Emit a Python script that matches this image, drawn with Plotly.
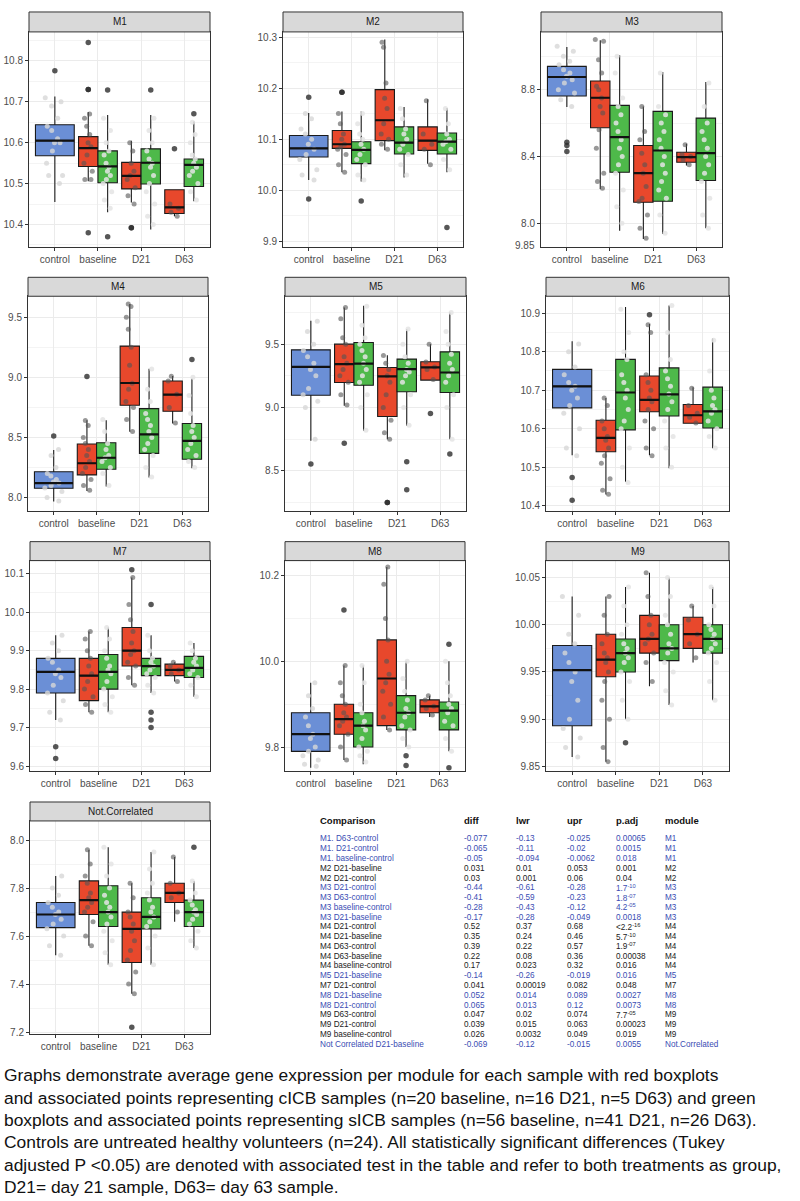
import plotly.graph_objects as go

W, H = 800, 1201

# ---------------- data ----------------
categories = ["control", "baseline", "D21", "D63"]
modules = ["M1", "M2", "M3", "M4", "M5", "M6", "M7", "M8", "M9", "Not.Correlated"]
# box order inside every panel
box_category = [0, 1, 1, 2, 2, 3, 3]
box_group = ["control", "cICB", "sICB", "cICB", "sICB", "cICB", "sICB"]

Q1 = [
    [10.568, 10.542, 10.502, 10.487, 10.499, 10.427, 10.493],
    [10.065, 10.082, 10.052, 10.097, 10.071, 10.078, 10.071],
    [8.762, 8.572, 8.306, 8.126, 8.132, 8.366, 8.256],
    [8.077, 8.188, 8.235, 8.768, 8.367, 8.718, 8.318],
    [9.097, 9.197, 9.176, 8.929, 9.124, 9.216, 9.118],
    [10.654, 10.540, 10.597, 10.644, 10.633, 10.614, 10.602],
    [9.79, 9.77, 9.80, 9.86, 9.835, 9.835, 9.83],
    [9.79, 9.83, 9.80, 9.85, 9.84, 9.88, 9.84],
    [9.893, 9.945, 9.95, 9.97, 9.962, 9.975, 9.97],
    [7.635, 7.69, 7.64, 7.49, 7.63, 7.74, 7.64],
]
MEDIAN = [
    [10.605, 10.587, 10.542, 10.519, 10.551, 10.442, 10.546],
    [10.082, 10.090, 10.079, 10.137, 10.093, 10.097, 10.095],
    [8.876, 8.752, 8.516, 8.30, 8.436, 8.396, 8.42],
    [8.12, 8.285, 8.331, 8.953, 8.525, 8.856, 8.472],
    [9.321, 9.342, 9.347, 9.245, 9.303, 9.316, 9.276],
    [10.71, 10.576, 10.694, 10.675, 10.689, 10.635, 10.645],
    [9.845, 9.835, 9.845, 9.90, 9.86, 9.85, 9.855],
    [9.83, 9.865, 9.85, 9.96, 9.88, 9.895, 9.885],
    [9.952, 9.963, 9.97, 9.985, 9.975, 9.99, 9.985],
    [7.69, 7.75, 7.70, 7.63, 7.68, 7.78, 7.70],
]
Q3 = [
    [10.644, 10.615, 10.580, 10.552, 10.585, 10.485, 10.560],
    [10.107, 10.117, 10.095, 10.197, 10.124, 10.124, 10.112],
    [8.94, 8.852, 8.706, 8.466, 8.67, 8.426, 8.63],
    [8.215, 8.445, 8.456, 9.26, 8.74, 8.97, 8.616],
    [9.455, 9.50, 9.513, 9.316, 9.382, 9.361, 9.439],
    [10.754, 10.622, 10.78, 10.737, 10.758, 10.663, 10.708],
    [9.88, 9.88, 9.89, 9.96, 9.88, 9.865, 9.885],
    [9.88, 9.90, 9.88, 10.05, 9.92, 9.91, 9.905],
    [9.978, 9.99, 9.985, 10.01, 10.0, 10.008, 10.0],
    [7.74, 7.83, 7.81, 7.70, 7.76, 7.82, 7.75],
]
LOWER = [
    [10.455, 10.506, 10.430, 10.454, 10.388, 10.420, 10.457],
    [10.020, 10.035, 10.017, 10.078, 10.025, 10.052, 10.035],
    [8.696, 8.206, 7.956, 7.906, 7.936, 8.346, 7.97],
    [7.967, 8.055, 8.091, 8.547, 8.166, 8.616, 8.243],
    [8.737, 9.013, 8.816, 8.75, 8.855, 9.216, 8.75],
    [10.531, 10.429, 10.462, 10.531, 10.497, 10.614, 10.549],
    [9.72, 9.74, 9.74, 9.81, 9.79, 9.82, 9.78],
    [9.752, 9.77, 9.76, 9.84, 9.80, 9.87, 9.79],
    [9.86, 9.855, 9.90, 9.935, 9.915, 9.96, 9.92],
    [7.52, 7.56, 7.48, 7.36, 7.48, 7.66, 7.55],
]
UPPER = [
    [10.713, 10.675, 10.668, 10.605, 10.668, 10.485, 10.652],
    [10.151, 10.154, 10.154, 10.295, 10.163, 10.178, 10.161],
    [9.056, 9.096, 9.006, 8.70, 8.906, 8.476, 8.846],
    [8.395, 8.644, 8.644, 9.61, 9.072, 9.011, 8.99],
    [9.684, 9.789, 9.803, 9.413, 9.618, 9.50, 9.75],
    [10.827, 10.68, 10.916, 10.872, 10.92, 10.708, 10.834],
    [9.94, 9.95, 9.96, 10.09, 9.94, 9.87, 9.92],
    [9.95, 9.99, 9.99, 10.22, 10.0, 9.92, 10.0],
    [10.03, 10.03, 10.04, 10.055, 10.05, 10.02, 10.04],
    [7.85, 7.96, 7.97, 7.82, 7.95, 7.93, 7.83],
]
OUTLIERS = [
    [[10.776], [10.845, 10.73, 10.73, 10.38], [10.729, 10.37], [10.392, 10.392], [10.729], [10.585], [10.671]],
    [[10.182, 9.983], [10.192, 10.192], [9.979], [], [], [], [9.927]],
    [[8.486, 8.466, 8.43], [], [], [], [], [], []],
    [[8.511], [9.008], [], [], [], [], [9.149]],
    [[8.553], [8.718], [], [8.25, 8.25], [8.571, 8.35], [8.953], [8.632]],
    [[10.473, 10.414], [], [], [10.896], [], [], []],
    [[9.65, 9.62], [], [], [10.11], [10.02, 9.74, 9.72, 9.70], [], []],
    [[], [10.12], [], [], [9.78, 9.757], [], [10.04, 9.752]],
    [[], [], [9.875], [], [], [], []],
    [[], [], [], [7.22], [], [], [7.97]],
]
POINTS = [
    [[10.71, 10.70, 10.69, 10.66, 10.64, 10.63, 10.61, 10.60, 10.60, 10.58, 10.55, 10.52, 10.52, 10.50],
     [10.67, 10.66, 10.64, 10.62, 10.60, 10.59, 10.57, 10.55, 10.53, 10.51, 10.51],
     [10.66, 10.63, 10.60, 10.58, 10.57, 10.55, 10.54, 10.53, 10.52, 10.51, 10.50, 10.48, 10.46, 10.44],
     [10.60, 10.58, 10.55, 10.53, 10.52, 10.51, 10.49, 10.47, 10.45],
     [10.66, 10.63, 10.60, 10.58, 10.56, 10.55, 10.54, 10.52, 10.50, 10.48, 10.45, 10.42, 10.40],
     [10.45, 10.44, 10.43, 10.42],
     [10.65, 10.62, 10.60, 10.57, 10.56, 10.55, 10.54, 10.53, 10.52, 10.50, 10.48, 10.46]],
    [[10.15, 10.14, 10.12, 10.11, 10.10, 10.09, 10.08, 10.07, 10.06, 10.04, 10.03, 10.02],
     [10.15, 10.13, 10.11, 10.10, 10.09, 10.085, 10.08, 10.07, 10.05, 10.035],
     [10.15, 10.13, 10.11, 10.10, 10.09, 10.08, 10.07, 10.06, 10.05, 10.03, 10.02],
     [10.29, 10.28, 10.21, 10.18, 10.16, 10.13, 10.11, 10.10, 10.09, 10.08],
     [10.16, 10.14, 10.12, 10.11, 10.10, 10.09, 10.08, 10.07, 10.05, 10.03],
     [10.175, 10.11, 10.09, 10.08, 10.05],
     [10.16, 10.13, 10.11, 10.10, 10.095, 10.09, 10.08, 10.06, 10.04]],
    [[9.06, 9.03, 9.00, 8.97, 8.95, 8.92, 8.90, 8.88, 8.86, 8.84, 8.80, 8.78, 8.74, 8.70],
     [9.10, 9.09, 8.98, 8.90, 8.82, 8.80, 8.75, 8.70, 8.66, 8.56, 8.45, 8.30, 8.25, 8.21],
     [9.00, 8.90, 8.75, 8.70, 8.65, 8.60, 8.55, 8.50, 8.45, 8.40, 8.35, 8.30, 8.20, 8.10, 8.00],
     [8.70, 8.55, 8.50, 8.42, 8.35, 8.30, 8.22, 8.15, 8.13, 8.05, 7.97, 7.91],
     [8.90, 8.70, 8.65, 8.60, 8.55, 8.50, 8.45, 8.40, 8.35, 8.30, 8.25, 8.20, 8.15, 8.05, 7.94],
     [8.47, 8.41, 8.40, 8.38, 8.35],
     [8.84, 8.70, 8.60, 8.55, 8.50, 8.45, 8.40, 8.35, 8.30, 8.25, 8.15, 8.05, 7.97]],
    [[8.40, 8.35, 8.25, 8.20, 8.18, 8.15, 8.13, 8.12, 8.10, 8.08, 8.05, 8.00, 7.97],
     [8.64, 8.60, 8.50, 8.45, 8.40, 8.35, 8.30, 8.25, 8.20, 8.15, 8.10, 8.06],
     [8.65, 8.55, 8.45, 8.40, 8.35, 8.33, 8.30, 8.25, 8.20, 8.10],
     [9.61, 9.59, 9.50, 9.40, 9.25, 9.10, 8.95, 8.90, 8.80, 8.75, 8.65, 8.55],
     [9.07, 8.90, 8.80, 8.70, 8.65, 8.60, 8.55, 8.50, 8.45, 8.40, 8.35, 8.25, 8.17],
     [9.01, 8.97, 8.86, 8.75, 8.62],
     [9.00, 8.85, 8.70, 8.60, 8.55, 8.50, 8.45, 8.40, 8.35, 8.30, 8.25]],
    [[9.68, 9.60, 9.50, 9.45, 9.40, 9.35, 9.30, 9.25, 9.15, 9.10, 9.05, 9.00, 8.75],
     [9.79, 9.70, 9.55, 9.50, 9.40, 9.35, 9.30, 9.25, 9.20, 9.10, 9.02],
     [9.80, 9.65, 9.55, 9.50, 9.45, 9.40, 9.35, 9.30, 9.25, 9.20, 9.10, 9.00, 8.82],
     [9.41, 9.35, 9.30, 9.25, 9.20, 9.10, 9.00, 8.90, 8.80, 8.75],
     [9.62, 9.50, 9.40, 9.35, 9.30, 9.28, 9.25, 9.20, 9.10, 9.00, 8.86],
     [9.50, 9.36, 9.32, 9.30, 9.22],
     [9.75, 9.60, 9.50, 9.42, 9.35, 9.30, 9.25, 9.20, 9.10, 9.00, 8.75]],
    [[10.82, 10.80, 10.76, 10.74, 10.72, 10.71, 10.70, 10.68, 10.66, 10.64, 10.60, 10.55, 10.53],
     [10.68, 10.66, 10.62, 10.60, 10.58, 10.57, 10.55, 10.53, 10.51, 10.47, 10.44, 10.43],
     [10.91, 10.85, 10.80, 10.78, 10.74, 10.72, 10.70, 10.68, 10.65, 10.62, 10.60, 10.55, 10.50, 10.46],
     [10.87, 10.85, 10.74, 10.72, 10.70, 10.68, 10.67, 10.65, 10.62, 10.60, 10.55, 10.53],
     [10.92, 10.85, 10.78, 10.75, 10.73, 10.71, 10.69, 10.67, 10.65, 10.62, 10.58, 10.55, 10.50],
     [10.705, 10.66, 10.64, 10.63, 10.615],
     [10.83, 10.75, 10.70, 10.68, 10.66, 10.65, 10.64, 10.62, 10.60, 10.58, 10.55]],
    [[9.94, 9.92, 9.90, 9.88, 9.87, 9.85, 9.84, 9.83, 9.81, 9.79, 9.77, 9.74, 9.72],
     [9.95, 9.93, 9.90, 9.88, 9.86, 9.84, 9.82, 9.80, 9.78, 9.76, 9.74],
     [9.96, 9.93, 9.90, 9.88, 9.86, 9.85, 9.84, 9.82, 9.80, 9.78, 9.76, 9.74],
     [10.09, 10.02, 9.98, 9.95, 9.92, 9.90, 9.89, 9.87, 9.86, 9.83, 9.81],
     [9.94, 9.90, 9.88, 9.87, 9.86, 9.85, 9.84, 9.83, 9.81, 9.79],
     [9.87, 9.86, 9.85, 9.84, 9.82],
     [9.92, 9.90, 9.88, 9.87, 9.86, 9.85, 9.84, 9.83, 9.81, 9.78]],
    [[9.95, 9.92, 9.89, 9.87, 9.85, 9.83, 9.82, 9.80, 9.79, 9.78, 9.77, 9.76, 9.755],
     [9.99, 9.95, 9.92, 9.90, 9.88, 9.87, 9.86, 9.85, 9.83, 9.80, 9.77],
     [9.99, 9.95, 9.90, 9.88, 9.86, 9.85, 9.84, 9.82, 9.80, 9.79, 9.78, 9.765],
     [10.22, 10.18, 10.10, 10.05, 10.00, 9.97, 9.95, 9.93, 9.90, 9.87, 9.84],
     [10.00, 9.96, 9.93, 9.91, 9.89, 9.88, 9.87, 9.85, 9.84, 9.82, 9.80],
     [9.92, 9.91, 9.895, 9.89, 9.875],
     [10.00, 9.95, 9.92, 9.90, 9.89, 9.88, 9.86, 9.85, 9.82, 9.79]],
    [[10.03, 10.01, 9.99, 9.98, 9.97, 9.96, 9.95, 9.94, 9.92, 9.90, 9.89, 9.88, 9.87, 9.86],
     [10.03, 10.01, 9.99, 9.98, 9.97, 9.965, 9.96, 9.95, 9.94, 9.92, 9.90, 9.87, 9.855],
     [10.04, 10.02, 10.00, 9.99, 9.98, 9.975, 9.97, 9.965, 9.96, 9.95, 9.94, 9.92, 9.90],
     [10.055, 10.03, 10.01, 10.00, 9.99, 9.985, 9.98, 9.97, 9.96, 9.94],
     [10.05, 10.03, 10.01, 10.00, 9.99, 9.98, 9.975, 9.97, 9.96, 9.95, 9.93, 9.915],
     [10.02, 10.005, 9.99, 9.98, 9.965],
     [10.04, 10.02, 10.00, 9.995, 9.99, 9.985, 9.98, 9.975, 9.97, 9.96, 9.94, 9.92]],
    [[7.85, 7.80, 7.77, 7.74, 7.72, 7.70, 7.69, 7.67, 7.65, 7.63, 7.60, 7.56, 7.52],
     [7.96, 7.90, 7.85, 7.82, 7.78, 7.76, 7.74, 7.72, 7.70, 7.66, 7.60, 7.56],
     [7.97, 7.90, 7.85, 7.80, 7.77, 7.74, 7.72, 7.70, 7.68, 7.65, 7.62, 7.58, 7.53, 7.48],
     [7.82, 7.76, 7.70, 7.68, 7.65, 7.62, 7.58, 7.54, 7.50, 7.45, 7.40, 7.36],
     [7.95, 7.88, 7.82, 7.78, 7.75, 7.72, 7.70, 7.68, 7.66, 7.64, 7.60, 7.55, 7.48],
     [7.93, 7.82, 7.78, 7.76, 7.70],
     [7.83, 7.78, 7.75, 7.73, 7.71, 7.70, 7.69, 7.67, 7.65, 7.62, 7.58, 7.55]],
]

# y axis settings per panel
Y_RANGE = [[10.344, 10.871], [9.888, 10.31], [7.856, 9.146], [7.89, 9.675], [8.185, 9.878],
           [10.387, 10.944], [9.587, 10.134], [9.744, 10.235], [9.845, 10.068], [7.19, 8.08]]
Y_TICK0 = [10.4, 9.9, 8.0, 8.0, 8.5, 10.4, 9.6, 9.8, 9.85, 7.2]
Y_DTICK = [0.1, 0.1, 0.4, 0.5, 0.5, 0.1, 0.1, 0.2, 0.05, 0.2]
Y_FMT = [".1f", ".1f", ".1f", ".1f", ".1f", ".1f", ".1f", ".1f", ".2f", ".1f"]

# Tukey table
tbl_comparison = ["M1. D63-control", "M1. D21-control", "M1. baseline-control", "M2 D21-baseline",
                  "M2 D21-control", "M3 D21-control", "M3 D63-control", "M3 baseline-control",
                  "M3 D21-baseline", "M4 D21-control", "M4 D21-baseline", "M4 D63-control",
                  "M4 D63-baseline", "M4 baseline-control", "M5 D21-baseline", "M7 D21-control",
                  "M8 D21-baseline", "M8 D21-control", "M9 D63-control", "M9 D21-control",
                  "M9 baseline-control", "Not Correlated D21-baseline"]
tbl_diff = ["-0.077", "-0.065", "-0.05", "0.031", "0.03", "-0.44", "-0.41", "-0.28", "-0.17", "0.52",
            "0.35", "0.39", "0.22", "0.17", "-0.14", "0.041", "0.052", "0.065", "0.047", "0.039",
            "0.026", "-0.069"]
tbl_lwr = ["-0.13", "-0.11", "-0.094", "0.01", "0.001", "-0.61", "-0.59", "-0.43", "-0.28", "0.37",
           "0.24", "0.22", "0.08", "0.023", "-0.26", "0.00019", "0.014", "0.013", "0.02", "0.015",
           "0.0032", "-0.12"]
tbl_upr = ["-0.025", "-0.02", "-0.0062", "0.053", "0.06", "-0.28", "-0.23", "-0.12", "-0.049", "0.68",
           "0.46", "0.57", "0.36", "0.32", "-0.019", "0.082", "0.089", "0.12", "0.074", "0.063",
           "0.049", "-0.015"]
tbl_padj = ["0.00065", "0.0015", "0.018", "0.001", "0.04", "1.7<sup>-10</sup>", "1.8<sup>-07</sup>",
            "4.2<sup>-05</sup>", "0.0018", "&lt;2.2<sup>-16</sup>", "5.7<sup>-10</sup>",
            "1.9<sup>-07</sup>", "0.00038", "0.016", "0.016", "0.048", "0.0027", "0.0073",
            "7.7<sup>-05</sup>", "0.00023", "0.019", "0.0055"]
tbl_module = ["M1", "M1", "M1", "M2", "M2", "M3", "M3", "M3", "M3", "M4", "M4", "M4", "M4", "M4",
              "M5", "M7", "M8", "M8", "M9", "M9", "M9", "Not.Correlated"]
tbl_headers = ["Comparison", "diff", "lwr", "upr", "p.adj", "module"]
# rows highlighted in blue in the original table
tbl_blue = ["-" in d for d in tbl_diff]
for _r in (16, 17):
    tbl_blue[_r] = True

caption_lines = [
    "Graphs demonstrate average gene expression per module for each sample with red boxplots",
    "and associated points representing cICB samples (n=20 baseline, n=16 D21, n=5 D63) and green",
    "boxplots and associated points representing sICB samples (n=56 baseline, n=41 D21, n=26 D63).",
    "Controls are untreated healthy volunteers (n=24). All statistically significant differences (Tukey",
    "adjusted P &lt;0.05) are denoted with associated test in the table and refer to both treatments as group,",
    "D21= day 21 sample, D63= day 63 sample.",
]

# ---------------- styling / layout ----------------
FILL = {"control": "#6b8fd6", "cICB": "#e8482c", "sICB": "#4eb94a"}
PT_COLOR = {"control": "rgba(215,215,215,0.8)", "cICB": "rgba(85,85,85,0.6)",
            "sICB": "rgba(228,228,228,0.85)"}
DODGE = {"control": 0.0, "cICB": -0.225, "sICB": 0.225}
BWIDTH = {"control": 0.9, "cICB": 0.45, "sICB": 0.45}

ROWS = [(12, 32, 248), (278, 297, 512), (543, 562, 773), (804, 823, 1037)]
PANELS = [(29, 210, 0), (283, 463, 0), (541, 722, 0),
          (28, 208, 1), (285, 466, 1), (546, 729, 1),
          (30, 210, 2), (285, 465, 2), (546, 729, 2),
          (30, 210, 3)]

FONT = "Liberation Sans, Arial, sans-serif"

fig = go.Figure()
shapes = []
annotations = []
layout_axes = {}

for m, mod in enumerate(modules):
    i = m + 1
    xa = "x" if i == 1 else f"x{i}"
    ya = "y" if i == 1 else f"y{i}"
    for b in range(7):
        grp = box_group[b]
        pos = box_category[b] + 1 + DODGE[grp]
        w = BWIDTH[grp]
        fig.add_trace(go.Box(
            x=[pos], q1=[Q1[m][b]], median=[MEDIAN[m][b]], q3=[Q3[m][b]],
            lowerfence=[LOWER[m][b]], upperfence=[UPPER[m][b]],
            width=w, fillcolor=FILL[grp], line=dict(color="#1a1a1a", width=1.1),
            whiskerwidth=0, boxpoints=False, xaxis=xa, yaxis=ya,
            showlegend=False, hoverinfo="skip"))
        fig.add_trace(go.Scatter(
            x=[pos - w / 2, pos + w / 2], y=[MEDIAN[m][b], MEDIAN[m][b]], mode="lines",
            line=dict(color="#111111", width=2.2), xaxis=xa, yaxis=ya,
            showlegend=False, hoverinfo="skip"))
        pts = POINTS[m][b]
        fig.add_trace(go.Box(
            x=[pos] * len(pts), y=pts, boxpoints="all", jitter=0.55, pointpos=0,
            width=w, fillcolor="rgba(0,0,0,0)", line=dict(color="rgba(0,0,0,0)", width=0),
            marker=dict(color=PT_COLOR[grp], size=5), whiskerwidth=0,
            xaxis=xa, yaxis=ya, showlegend=False, hoverinfo="skip"))
        out = OUTLIERS[m][b]
        if out:
            fig.add_trace(go.Scatter(
                x=[pos] * len(out), y=out, mode="markers",
                marker=dict(color="rgba(45,45,45,0.8)", size=5.5),
                xaxis=xa, yaxis=ya, showlegend=False, hoverinfo="skip"))

    x0, x1, r = PANELS[m]
    st, pt, pb = ROWS[r]
    layout_axes[f"xaxis{i}" if i > 1 else "xaxis"] = dict(
        domain=[x0 / W, x1 / W], anchor=ya, range=[0.4, 4.6],
        tickmode="array", tickvals=[1, 2, 3, 4], ticktext=categories,
        showgrid=True, gridcolor="#EBEBEB", gridwidth=1, zeroline=False,
        showline=True, linecolor="#333333", linewidth=1, mirror=True,
        ticks="outside", ticklen=3, tickcolor="#333333",
        tickfont=dict(size=10, color="#4d4d4d", family=FONT))
    layout_axes[f"yaxis{i}" if i > 1 else "yaxis"] = dict(
        domain=[1 - pb / H, 1 - pt / H], anchor=xa, range=Y_RANGE[m],
        tickmode="linear", tick0=Y_TICK0[m], dtick=Y_DTICK[m], tickformat=Y_FMT[m],
        minor=dict(tickmode="linear", tick0=Y_TICK0[m], dtick=Y_DTICK[m] / 2,
                   showgrid=True, gridcolor="#F4F4F4", gridwidth=1),
        showgrid=True, gridcolor="#EBEBEB", gridwidth=1, zeroline=False,
        showline=True, linecolor="#333333", linewidth=1, mirror=True,
        ticks="outside", ticklen=3, tickcolor="#333333",
        tickfont=dict(size=10, color="#4d4d4d", family=FONT))
    # facet strip
    shapes.append(dict(type="rect", xref="paper", yref="paper",
                       x0=x0 / W, x1=x1 / W, y0=1 - pt / H, y1=1 - st / H,
                       fillcolor="#D9D9D9", line=dict(color="#333333", width=1), layer="above"))
    annotations.append(dict(text=mod, xref="paper", yref="paper",
                            x=(x0 + x1) / 2 / W, y=1 - (st + pt) / 2 / H,
                            xanchor="center", yanchor="middle", showarrow=False,
                            font=dict(size=10, color="#1a1a1a", family=FONT)))

# stray label seen under the M3 axis
annotations.append(dict(text="9.85", xref="x3 domain", yref="y3", x=0, y=7.868,
                        xanchor="right", yanchor="middle", xshift=-4, showarrow=False,
                        font=dict(size=10, color="#4d4d4d", family=FONT)))

# table
COL_X = [318, 462, 514, 565, 614, 663]
HEADER_Y = 823
ROW0_Y = 841
ROW_STEP = 9.8
for c, htxt in enumerate(tbl_headers):
    annotations.append(dict(text=f"<b>{htxt}</b>", xref="paper", yref="paper",
                            x=COL_X[c] / W, y=1 - HEADER_Y / H, xanchor="left", yanchor="middle",
                            showarrow=False, font=dict(size=9.5, color="#111111", family=FONT)))
for r in range(len(tbl_comparison)):
    col = "#3a4db3" if tbl_blue[r] else "#222222"
    vals = [tbl_comparison[r], tbl_diff[r], tbl_lwr[r], tbl_upr[r], tbl_padj[r], tbl_module[r]]
    for c, v in enumerate(vals):
        annotations.append(dict(text=v, xref="paper", yref="paper",
                                x=COL_X[c] / W, y=1 - (ROW0_Y + r * ROW_STEP) / H,
                                xanchor="left", yanchor="middle", showarrow=False,
                                font=dict(size=8.2, color=col, family=FONT)))

# caption
CAP_Y0 = 1078
CAP_STEP = 22.4
for k, line in enumerate(caption_lines):
    annotations.append(dict(text=line, xref="paper", yref="paper",
                            x=2 / W, y=1 - (CAP_Y0 + k * CAP_STEP) / H,
                            xanchor="left", yanchor="middle", showarrow=False,
                            font=dict(size=17.4, color="#111111", family=FONT)))

fig.update_layout(
    width=W, height=H, margin=dict(l=0, r=0, t=0, b=0),
    paper_bgcolor="white", plot_bgcolor="white",
    boxmode="overlay", showlegend=False,
    shapes=shapes, annotations=annotations, **layout_axes)

fig.write_html("out.html", config={"displayModeBar": False},
               post_script="document.body.style.margin='0';")
